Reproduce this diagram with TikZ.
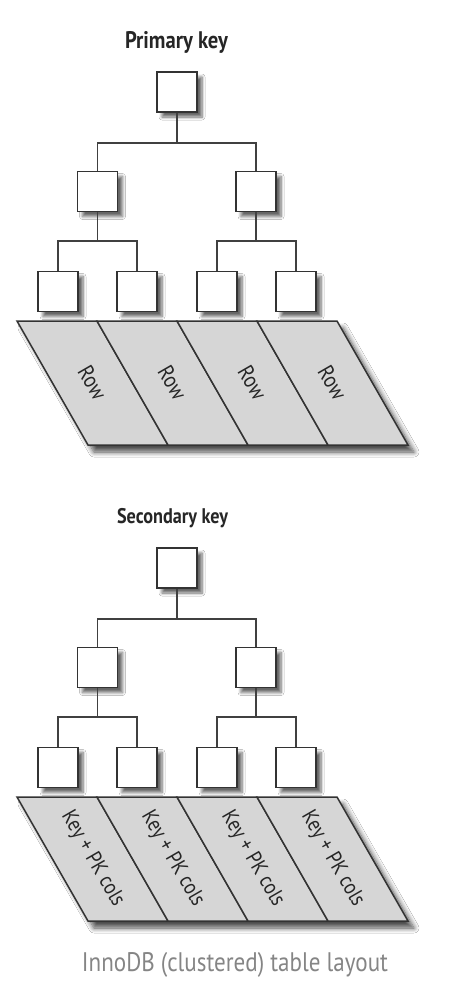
\documentclass[tikz,border=0pt]{standalone}
\usepackage{fontspec}
\newfontfamily\condfont[FakeStretch=0.86]{PT Sans}
\usetikzlibrary{shadows.blur}
\tikzset{
  box/.style={draw=black!80, line width=1.8pt, fill=white, minimum width=40pt, minimum height=40pt, inner sep=0pt,
    blur shadow={shadow xshift=5pt, shadow yshift=-5pt, shadow blur steps=6, shadow blur radius=3pt, shadow opacity=60}},
  conn/.style={draw=black!75, line width=1.8pt},
  cell/.style={draw=black!80, line width=1.5pt, fill=black!16, line join=miter},
  celltext/.style={rotate=-60, inner sep=0pt, font=\condfont\fontsize{20}{24}\selectfont, text=black!85},
  title/.style={inner sep=0pt, font=\condfont\bfseries\fontsize{20}{24}\selectfont, text=black!85},
  caption/.style={inner sep=0pt, font=\condfont\fontsize{24}{28}\selectfont, text=black!48},
}
\newcommand{\mytree}[6]{%
  % #1 prefix, #2 title, #3 cell text, #4 title x, #5 title width, #6 cell text width
  \node[title] (#1title) at (#4,42) {\resizebox{#5}{!}{#2}};
  \node[box] (#1r) at (177,92) {};
  \node[box] (#1a) at (97.5,191.5) {};
  \node[box] (#1b) at (256,191.5) {};
  \node[box] (#1aa) at (58,291.5) {};
  \node[box] (#1ab) at (137,291.5) {};
  \node[box] (#1ba) at (217,291.5) {};
  \node[box] (#1bb) at (296,291.5) {};
  \coordinate (#1rj) at (177,143);
  \coordinate (#1aj) at (97.5,241);
  \coordinate (#1bj) at (256,241);
  \draw[conn] (#1r.south) -- (#1rj);
  \draw[conn] (#1a.north) |- (#1rj) -| (#1b.north);
  \draw[conn] (#1a.south) -- (#1aj);
  \draw[conn] (#1aa.north) |- (#1aj) -| (#1ab.north);
  \draw[conn] (#1b.south) -- (#1bj);
  \draw[conn] (#1ba.north) |- (#1bj) -| (#1bb.north);
  % leaf pages
  \path[fill=white, blur shadow={shadow xshift=6pt, shadow yshift=-7pt, shadow blur steps=8, shadow blur radius=5pt, shadow opacity=70}]
    (17,321) -- (337,321) -- (408,445) -- (88,445) -- cycle;
  \foreach \i/\nm in {0/c1,1/c2,2/c3,3/c4}{
    \draw[cell] ({17+80*\i},321) -- ({97+80*\i},321) -- ({168+80*\i},445) -- ({88+80*\i},445) -- cycle;
    \node[celltext] (#1\nm) at ({92.5+80*\i},383) {\resizebox{#6}{!}{#3}};
  }
}
\begin{document}
\begin{tikzpicture}[x=1pt, y=-1pt]
  \useasboundingbox (0,0) rectangle (460,998);
  \fill[white] (0,0) rectangle (460,998);
  \mytree{p}{Primary key}{Row}{176.5}{103pt}{35pt}
  \begin{scope}[yshift=-476pt]
    \mytree{s}{Secondary key}{Key + PK cols}{172.5}{111pt}{106pt}
  \end{scope}
  \node[caption] (cap) at (235,965) {\resizebox{306pt}{!}{InnoDB (clustered) table layout}};
\end{tikzpicture}
\end{document}
